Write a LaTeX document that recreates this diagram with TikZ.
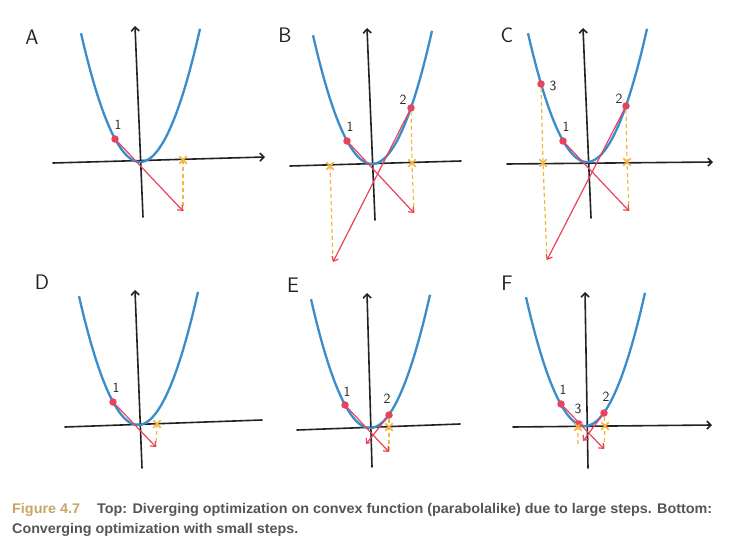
\documentclass[tikz,border=0pt]{standalone}
\usepackage{fontspec}
\newfontfamily\capfont{Liberation Sans}
\usetikzlibrary{arrows.meta,shapes.misc}
\definecolor{curveblue}{HTML}{3A8DCB}
\definecolor{stepred}{HTML}{E8435B}
\definecolor{projorange}{HTML}{F3B440}
\definecolor{axisblack}{HTML}{222222}
\definecolor{figgold}{HTML}{C8A466}
\definecolor{capgray}{HTML}{555555}

\begin{document}
\begin{tikzpicture}[x=1pt,y=-1pt,
    axis/.style={axisblack, line width=1.6pt, line cap=round},
    axisarrow/.style={axis, -{Straight Barb[length=4pt,width=8pt]}},
    curve/.style={curveblue, line width=2.3pt},
    dot/.style={circle, fill=stepred, inner sep=0pt, minimum size=7.5pt},
    steparrow/.style={stepred, line width=1.2pt, -{Straight Barb[length=4pt,width=7pt]}},
    proj/.style={projorange, line width=1.2pt, dash pattern=on 4pt off 3pt},
    hit/.style={cross out, draw=projorange, line width=1.5pt, inner sep=0pt, minimum size=6pt},
    panel/.style={font=\sffamily\fontsize{21}{21}\selectfont, text=axisblack},
    num/.style={font=\sffamily\fontsize{14}{14}\selectfont, text=axisblack},
    captext/.style={anchor=base west, inner sep=0pt, font=\capfont\bfseries\fontsize{14}{14}\selectfont}]
    \useasboundingbox (0,0) rectangle (737,554);

    % Panel A
    \node[panel] (labA) at (32,37) {A};
    \draw[axisarrow] (53,163) -- (265,157);
    \draw[axisarrow] (143,217) -- (135,26);
    \draw[curve] plot[domain=-59:60,samples=60] ({140+\x},{162-0.037*\x*\x});
    \node[dot] (a1) at (115,139) {};
    \node[num] (a1n) at (118,125) {1};
    \coordinate (a1t) at (183,211);
    \node[hit] (a1x) at (183,160) {};
    \draw[proj] (a1x.center) -- (a1t);
    \draw[steparrow] (a1) -- (a1t);

    % Panel B
    \node[panel] (labB) at (285,35) {B};
    \draw[axis] (290,166) -- (461,161);
    \draw[axisarrow] (375,220) -- (367,28);
    \draw[curve] plot[domain=-59:60,samples=60] ({372+\x},{164-0.037*\x*\x});
    \node[dot] (b1) at (347,141) {};
    \node[num] (b1n) at (350,127) {1};
    \node[dot] (b2) at (411,108) {};
    \node[num] (b2n) at (403,100) {2};
    \coordinate (b1t) at (414,213);
    \coordinate (b2t) at (333,262);
    \node[hit] (b2x) at (412,163) {};
    \node[hit] (b3x) at (330,166) {};
    \draw[proj] (b2) -- (b2x.center) -- (b1t);
    \draw[proj] (b3x.center) -- (b2t);
    \draw[steparrow] (b1) -- (b1t);
    \draw[steparrow] (b2) -- (b2t);

    % Panel C
    \node[panel] (labC) at (507,35) {C};
    \draw[axisarrow] (507,164) -- (713,162);
    \draw[axisarrow] (591,218) -- (583,28);
    \draw[curve] plot[domain=-59:60,samples=60] ({587+\x},{162-0.037*\x*\x});
    \node[dot] (c3) at (541,84) {};
    \node[num] (c3n) at (553,86) {3};
    \node[dot] (c1) at (563,141) {};
    \node[num] (c1n) at (566,127) {1};
    \node[dot] (c2) at (626,106) {};
    \node[num] (c2n) at (619,99) {2};
    \coordinate (c1t) at (629,211);
    \coordinate (c2t) at (547,260);
    \node[hit] (c2x) at (627,162) {};
    \node[hit] (c3x) at (543,163) {};
    \draw[proj] (c2) -- (c2x.center) -- (c1t);
    \draw[proj] (c3) -- (c3x.center) -- (c2t);
    \draw[steparrow] (c1) -- (c1t);
    \draw[steparrow] (c2) -- (c2t);

    % Panel D
    \node[panel] (labD) at (42,282) {D};
    \draw[axis] (65,427) -- (262,420);
    \draw[axisarrow] (142,468) -- (135,290);
    \draw[curve] plot[domain=-59:60,samples=60] ({138+\x},{425-0.037*\x*\x});
    \node[dot] (d1) at (113,402) {};
    \node[num] (d1n) at (116,388) {1};
    \coordinate (d1t) at (156,447);
    \node[hit] (d1x) at (157,424) {};
    \draw[proj] (d1x.center) -- (d1t);
    \draw[steparrow] (d1) -- (d1t);

    % Panel E
    \node[panel] (labE) at (293,285) {E};
    \draw[axis] (297,430) -- (460,424);
    \draw[axisarrow] (372,467) -- (367,293);
    \draw[curve] plot[domain=-59:60,samples=60] ({370+\x},{428-0.037*\x*\x});
    \node[dot] (e1) at (345,405) {};
    \node[num] (e1n) at (347,392) {1};
    \node[dot] (e2) at (389,415) {};
    \node[num] (e2n) at (387,399) {2};
    \coordinate (e1t) at (389,452);
    \coordinate (e2t) at (366,444);
    \node[hit] (e2x) at (389,427) {};
    \draw[proj] (e2) -- (e2x.center) -- (e1t);
    \draw[steparrow] (e1) -- (e1t);
    \draw[steparrow] (e2) -- (e2t);

    % Panel F
    \node[panel] (labF) at (507,283) {F};
    \draw[axisarrow] (513,427) -- (712,425);
    \draw[axisarrow] (588,468) -- (585,292);
    \draw[curve] plot[domain=-59:60,samples=60] ({585+\x},{426-0.037*\x*\x});
    \node[dot] (f1) at (561,404) {};
    \node[num] (f1n) at (563,390) {1};
    \node[dot] (f2) at (604,413) {};
    \node[num] (f2n) at (606,397) {2};
    \node[dot] (f3) at (579,424) {};
    \node[num] (f3n) at (578,409) {3};
    \coordinate (f1t) at (604,449);
    \coordinate (f2t) at (583,441);
    \coordinate (f3t) at (578,445);
    \node[hit] (f2x) at (605,426) {};
    \node[hit] (f3x) at (578,427) {};
    \draw[proj] (f2) -- (f2x.center) -- (f1t);
    \draw[proj] (f3) -- (f3x.center) -- (f3t);
    \draw[steparrow] (f1) -- (f1t);
    \draw[steparrow] (f2) -- (f2t);

    % Caption
    \node[captext, text=figgold] (fig) at (12,513) {\resizebox{68pt}{\height}{Figure 4.7}};
    \node[captext, text=capgray] (capA) at (97,513) {\resizebox{615pt}{\height}{Top: Diverging optimization on convex function (parabolalike) due to large steps. Bottom:}};
    \node[captext, text=capgray] (capB) at (12,533) {\resizebox{286pt}{\height}{Converging optimization with small steps.}};
\end{tikzpicture}
\end{document}
